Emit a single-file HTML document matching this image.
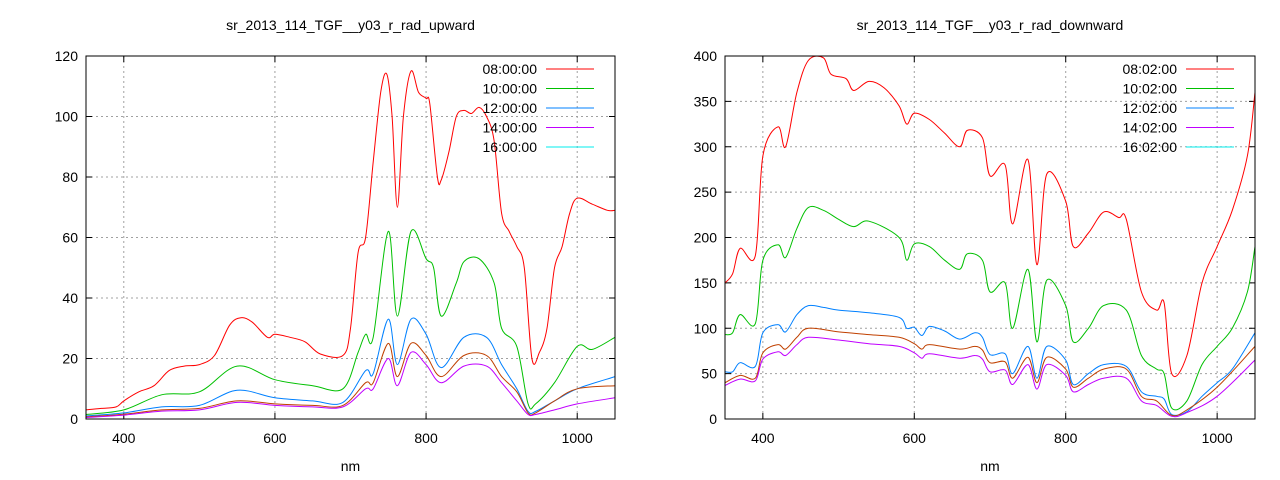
<!DOCTYPE html>
<html><head><meta charset="utf-8"><style>
body{margin:0;background:#fff}
svg{display:block;font-family:"Liberation Sans",sans-serif;font-size:14px}
</style></head><body>
<svg id="s" width="1280" height="480" xmlns="http://www.w3.org/2000/svg"></svg>
<script>
const S=document.getElementById('s');let h='';
const C=['#ff0000','#00c000','#0080ff','#c04000','#c000ff'];
const LC=['#ff0000','#00c000','#0080ff','#c000ff','#00eeee'];
function plot(x0,x1,y0,y1,ymax,ystep,title,labels,series){
 const X=v=>x0+(v-350)/700*(x1-x0), Y=v=>y1-v/ymax*(y1-y0);
 h+=`<text x="${(x0+x1)/2}" y="30" text-anchor="middle">${title}</text>`;
 for(let v=0;v<=ymax;v+=ystep){const y=Y(v);
  if(v>0&&v<ymax)h+=`<line x1="${x0}" x2="${x1}" y1="${y}" y2="${y}" stroke="#a0a0a0" stroke-dasharray="2,3"/>`;
  h+=`<line x1="${x0}" x2="${x0+6}" y1="${y}" y2="${y}" stroke="#000"/><line x1="${x1}" x2="${x1-6}" y1="${y}" y2="${y}" stroke="#000"/>`;
  h+=`<text x="${x0-8}" y="${y+5}" text-anchor="end">${v}</text>`;}
 for(let v=400;v<=1000;v+=200){const x=X(v);
  h+=`<line x1="${x}" x2="${x}" y1="${y0}" y2="${y1}" stroke="#a0a0a0" stroke-dasharray="2,3"/>`;
  h+=`<line x1="${x}" x2="${x}" y1="${y1}" y2="${y1-6}" stroke="#000"/><line x1="${x}" x2="${x}" y1="${y0}" y2="${y0+6}" stroke="#000"/>`;
  h+=`<text x="${x}" y="${y1+24}" text-anchor="middle">${v}</text>`;}
 h+=`<text x="${(x0+x1)/2}" y="471" text-anchor="middle">nm</text>`;
 series.forEach((p,i)=>{
  const P=[];for(let k=0;k<p.length;k+=2)P.push([X(p[k]),Y(p[k+1])]);
  let d='M'+P[0][0].toFixed(1)+','+P[0][1].toFixed(1);
  for(let k=0;k<P.length-1;k++){const a=P[Math.max(k-1,0)],b=P[k],c=P[k+1],e=P[Math.min(k+2,P.length-1)];
   const c1=[b[0]+(c[0]-a[0])/6,b[1]+(c[1]-a[1])/6],c2=[c[0]-(e[0]-b[0])/6,c[1]-(e[1]-b[1])/6];
   d+='C'+c1.map(v=>v.toFixed(1))+' '+c2.map(v=>v.toFixed(1))+' '+c.map(v=>v.toFixed(1));}
  h+=`<path d="${d}" fill="none" stroke="${C[i]}" stroke-width="1"/>`;});
 labels.forEach((l,i)=>{const y=y0+13+i*19.5;
  h+=`<text x="${x1-78}" y="${y+5}" text-anchor="end">${l}</text><line x1="${x1-69}" x2="${x1-21}" y1="${y}" y2="${y}" stroke="${LC[i]}"/>`;});
 h+=`<rect x="${x0}" y="${y0}" width="${x1-x0}" height="${y1-y0}" fill="none" stroke="#000"/>`;
}
plot(86,615,56,419,120,20,'sr_2013_114_TGF__y03_r_rad_upward',['08:00:00','10:00:00','12:00:00','14:00:00','16:00:00'],[
[350,3,370,3.5,390,4,400,6,420,9,440,11,460,16,480,17.5,500,18,520,21,540,31,555,33.5,570,32,590,27,600,28,620,27,640,25.5,660,21.5,690,21,700,30,710,55,720,60,730,85,740,108,748,114,755,100,762,70,770,100,780,115,790,108,800,106,805,104,815,80,820,79,830,88,840,100,850,102,860,101,870,103,880,100,890,92,900,68,910,62,920,57,930,50,940,20,950,22,960,30,970,50,980,57,990,68,1000,73,1020,71,1040,69,1050,69],
[350,1.5,400,3,450,8,500,9,550,17.5,600,13,650,11,690,10,710,22,720,28,730,27,750,62,762,34,780,62,800,53,810,50,820,34,840,45,850,52,870,53,890,45,900,30,920,24,935,5,945,5,970,12,1000,24,1020,23,1050,27],
[350,1,400,2,450,4,500,4.5,550,9.5,600,7,650,6,690,5.5,720,16,730,15,750,33,762,18,780,33,800,28,820,17,850,27,880,27,900,18,920,10,935,2.5,945,2.5,970,6,1000,10,1050,14],
[350,0.7,400,1.6,450,3,500,3.5,550,6,600,5,650,4.5,690,4.5,720,12,730,12,750,25,762,14,780,25,800,21,820,14,850,21,880,21,900,14,920,9,935,2,945,2,970,6,1000,10,1050,11],
[350,0.5,400,1.3,450,2.6,500,3,550,5.5,600,4.5,650,4,690,4,720,10,730,10,750,20,762,11,780,22,800,18,820,12,850,17.5,880,17.5,900,12,920,6,935,1.5,945,1.5,970,3,1000,5,1050,7]]);
plot(725,1255,56,419,400,50,'sr_2013_114_TGF__y03_r_rad_downward',['08:02:00','10:02:00','12:02:00','14:02:00','16:02:00'],[
[350,150,360,160,370,188,390,180,400,290,420,322,430,300,445,360,460,395,480,398,490,380,510,375,520,362,540,372,560,365,580,345,590,325,600,337,620,330,640,315,660,300,670,318,690,310,700,268,720,280,730,215,750,286,762,170,775,270,800,240,810,190,830,205,850,228,870,222,880,220,900,140,920,120,930,128,940,50,960,70,980,150,1000,190,1020,230,1040,290,1050,360],
[350,93,360,95,370,115,390,105,400,175,420,192,430,178,445,210,460,233,480,230,500,220,520,212,540,218,580,200,590,175,600,193,620,190,640,175,660,165,670,182,690,175,700,140,720,150,730,100,750,165,762,85,775,153,800,125,810,85,830,100,850,125,880,120,900,70,920,55,930,50,940,12,960,20,980,60,1000,80,1020,100,1040,140,1050,190],
[350,52,360,52,370,62,390,58,400,95,420,104,430,96,445,115,460,125,480,123,500,120,540,117,580,112,590,100,600,101,610,92,620,102,640,97,660,88,680,95,690,90,700,71,720,72,730,50,750,80,762,45,775,80,800,65,810,38,830,50,850,60,880,58,900,30,920,25,930,22,940,5,960,8,980,25,1000,40,1020,55,1050,95],
[350,40,370,48,390,45,400,73,420,82,430,77,445,90,460,100,500,96,540,93,580,90,600,83,610,77,620,82,660,77,680,80,690,76,700,62,720,63,730,45,750,68,762,40,775,68,800,55,810,35,830,45,850,55,880,55,900,25,920,20,940,4,960,10,1000,35,1050,80],
[350,37,370,44,390,42,400,66,420,74,430,70,445,82,460,90,500,87,540,83,580,80,600,73,610,67,620,72,660,67,680,70,690,66,700,52,720,54,730,38,750,60,762,33,775,60,800,48,810,30,830,38,850,45,880,45,900,20,920,15,940,3,960,7,1000,25,1050,65]]);
S.innerHTML=h;
</script>
</body></html>
